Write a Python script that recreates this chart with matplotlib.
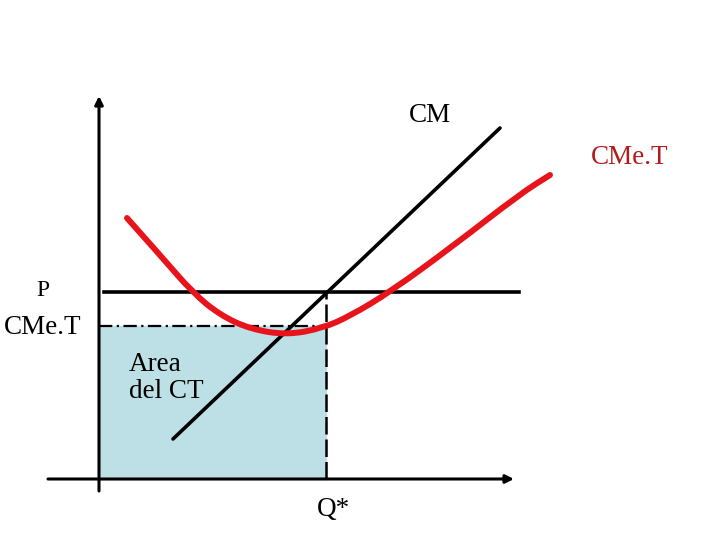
import matplotlib
matplotlib.use("Agg")
import matplotlib.pyplot as plt
from matplotlib.path import Path
from matplotlib.patches import PathPatch

# Coordinates: origin at the axes corner; x to the right, y upward (pixel-like units)
q_star = 227
p_level = 187
cmet_level = 153

cm_x = [74, 401]
cm_y = [40, 351]

cmet_x = [28, 61, 94, 121, 151, 188, 224, 251, 291, 354, 421, 451]
cmet_y = [261, 224, 186, 164, 150, 144, 151, 163, 187, 233, 285, 304]

fig = plt.figure(figsize=(7.2, 5.4), dpi=100)
ax = fig.add_axes([0, 0, 1, 1])
ax.set_xlim(-99, 621)
ax.set_ylim(-61, 479)
ax.axis("off")

serif = ["Liberation Serif", "DejaVu Serif"]

# shaded area
ax.fill_between([0, q_star], 0, cmet_level, color="#bde0e6", zorder=1)

# axes arrows
ax.annotate("", xy=(0, 383), xytext=(0, -12),
            arrowprops=dict(arrowstyle="-|>", lw=2.2, color="black", mutation_scale=12, shrinkA=0, shrinkB=0), zorder=3)
ax.annotate("", xy=(415, 0), xytext=(-51, 0),
            arrowprops=dict(arrowstyle="-|>", lw=2.2, color="black", mutation_scale=12, shrinkA=0, shrinkB=0), zorder=3)

# P line
ax.plot([5, 420], [p_level, p_level], color="black", lw=2.6, zorder=4)
# CMeT dash-dot line
ax.plot([0, q_star], [cmet_level, cmet_level], color="black", lw=1.6, ls=(0, (6, 2, 1, 2)), zorder=4)
# vertical dashed
ax.plot([q_star, q_star], [0, p_level], color="black", lw=1.8, ls=(0, (7, 2)), zorder=4)

# CM line
ax.plot(cm_x, cm_y, color="black", lw=2.6, solid_capstyle="round", zorder=5)

# CMeT curve: smooth quadratic Bezier path using the read points as controls
pts = list(zip(cmet_x, cmet_y))
verts = [pts[0]]
codes = [Path.MOVETO]
for i in range(1, len(pts) - 1):
    mid = ((pts[i][0] + pts[i + 1][0]) / 2, (pts[i][1] + pts[i + 1][1]) / 2)
    verts += [pts[i], mid]
    codes += [Path.CURVE3, Path.CURVE3]
verts.append(pts[-1])
codes.append(Path.LINETO)
ax.add_patch(PathPatch(Path(verts, codes), facecolor="none", edgecolor="#e8141b",
                       lw=4.3, capstyle="round", joinstyle="round", zorder=6))

# texts
ax.text(331, 363, "CM", fontsize=19.5, family=serif, ha="center", va="center")
ax.text(531, 322, "CMe.T", fontsize=19.5, family=serif, color="#b01c1c", ha="center", va="center")
ax.text(-56, 189, "P", fontsize=17, family=serif, ha="center", va="center")
ax.text(-56, 152, "CMe.T", fontsize=19.5, family=serif, ha="center", va="center")
ax.text(30, 101, "Area\ndel CT", fontsize=19.5, family=serif, ha="left", va="center", linespacing=1.15)
ax.text(234, -30, "Q*", fontsize=19.5, family=serif, ha="center", va="center")

fig.savefig("out.png", dpi=100)
